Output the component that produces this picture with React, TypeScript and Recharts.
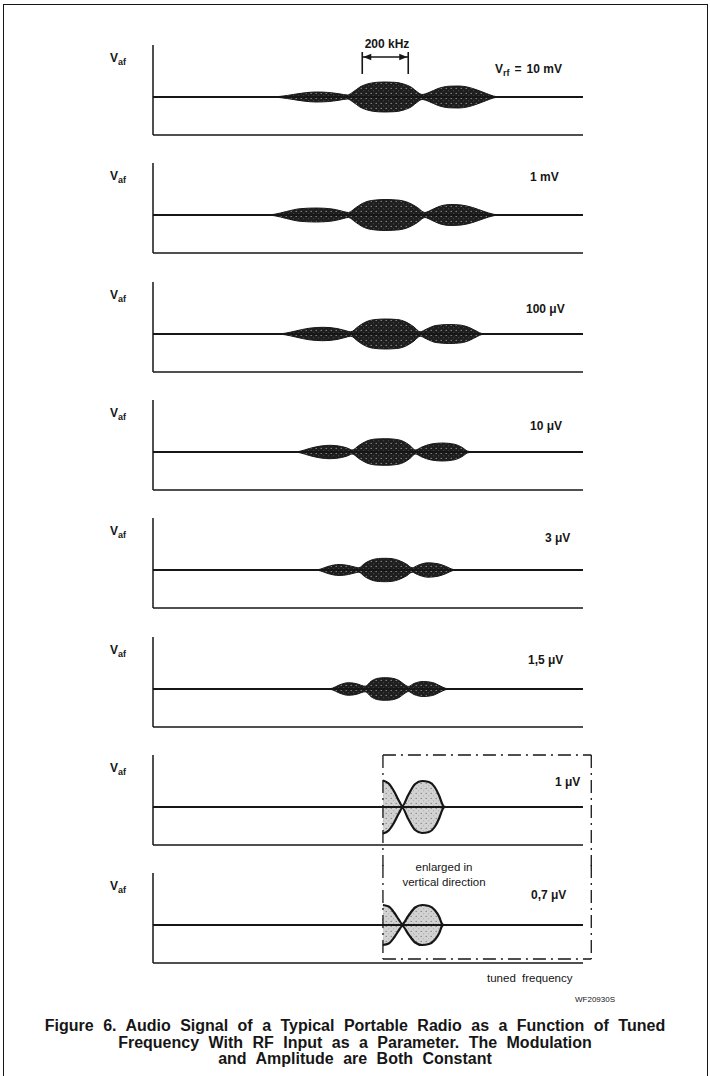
import React from 'react';
import { ComposedChart, Area, Line, XAxis, YAxis, ReferenceLine } from 'recharts';

// x: tuned frequency offset from the station in kHz, y: audio envelope (relative V_af, half amplitude)
const freqDomain: [number, number] = [-1010, 860];
const vafDomain: [number, number] = [-38, 52];

const rfLabels = ['10 mV', '1 mV', '100 μV', '10 μV', '3 μV', '1,5 μV', '1 μV', '0,7 μV'];

const env10mV: [number, number][] = [
  [-1010, 0], [-500, 0], [-450, 0.8], [-400, 2.5], [-350, 4.2], [-300, 5], [-250, 4.6], [-200, 3.2],
  [-165, 2], [-140, 5], [-110, 10], [-70, 13.5], [-30, 14.8], [0, 15], [40, 14.7], [80, 13], [115, 9.5],
  [140, 5], [160, 2.5], [190, 4.5], [230, 8.5], [280, 10.8], [320, 11], [360, 9.8], [400, 7], [440, 3.5],
  [470, 1], [500, 0], [860, 0],
];
const env1mV: [number, number][] = [
  [-1010, 0], [-520, 0], [-480, 0.8], [-430, 3.5], [-370, 6.3], [-300, 7], [-230, 6], [-190, 4],
  [-160, 2.5], [-130, 7], [-100, 11.5], [-60, 14.5], [0, 15.5], [60, 14.8], [100, 12.5], [140, 7.5],
  [172, 2.5], [200, 5], [240, 9], [285, 10.5], [330, 10], [380, 7.5], [430, 3.5], [470, 0.8], [500, 0], [860, 0],
];
const env100uV: [number, number][] = [
  [-1010, 0], [-470, 0], [-435, 0.8], [-390, 3], [-330, 5.8], [-270, 6.7], [-210, 5.5], [-175, 3.5],
  [-150, 2.2], [-120, 7], [-90, 11.5], [-50, 14.3], [0, 15], [50, 14.5], [90, 12], [125, 7], [152, 2.2],
  [180, 5], [220, 8.5], [280, 9.5], [330, 8.8], [370, 6], [400, 2.5], [420, 0.5], [450, 0], [860, 0],
];
const env10uV: [number, number][] = [
  [-1010, 0], [-400, 0], [-370, 0.8], [-330, 3.5], [-280, 6], [-240, 6.7], [-190, 5.5], [-160, 3.5],
  [-144, 2], [-115, 6.5], [-80, 11], [-40, 13], [0, 13.3], [40, 12.8], [80, 10.5], [110, 6], [130, 2],
  [160, 5], [200, 8], [250, 9], [300, 7.8], [335, 4.5], [357, 1], [380, 0], [860, 0],
];
const env3uV: [number, number][] = [
  [-1010, 0], [-310, 0], [-283, 0.8], [-250, 3.5], [-200, 5.5], [-160, 4.5], [-130, 2.8], [-115, 2.2],
  [-90, 6.5], [-60, 10], [-20, 11.6], [0, 11.7], [30, 11.3], [60, 9.5], [95, 5.5], [117, 2.2], [140, 4.5],
  [185, 7.2], [230, 6.2], [265, 3.5], [291, 0.8], [315, 0], [860, 0],
];
const env1_5uV: [number, number][] = [
  [-1010, 0], [-255, 0], [-230, 0.8], [-200, 4], [-160, 6.3], [-120, 5], [-95, 3], [-87, 2.8],
  [-60, 8], [-30, 10.8], [0, 11.3], [30, 10.8], [60, 8.5], [90, 3.5], [100, 2.5], [125, 5.5], [165, 7.5],
  [205, 6.5], [240, 3], [261, 0.8], [285, 0], [860, 0],
];
// enlarged in vertical direction, only the part right of the station is shown
const env1uV: [number, number][] = [
  [-10, 26.5], [15, 23.5], [40, 15], [60, 6], [74, 1], [100, 12], [130, 23], [160, 26], [190, 25],
  [215, 20], [235, 11], [248, 3], [254, 0.5], [262, 0],
];
const env0_7uV: [number, number][] = [
  [-10, 20], [15, 18.5], [40, 12], [60, 5], [74, 1], [100, 9], [130, 17.5], [160, 20], [190, 19],
  [215, 15], [235, 8], [247, 1], [252, 0],
];

const envelopes = [env10mV, env1mV, env100uV, env10uV, env3uV, env1_5uV, env1uV, env0_7uV];
const baselineData = [{ f: freqDomain[0], v: 0 }, { f: freqDomain[1], v: 0 }];
const bracketKHz = 200;
const boxLeftKHz = -10;
const boxRightKHz = 896;

const INK = '#161616';
const FONT = '"Liberation Sans", Arial, Helvetica, sans-serif';

// layout
const PANEL_STEP = 118.3;
const FIRST_BASE = 97;
const CHART_LEFT = 140;
const CHART_W = 470;
const CHART_H = 119;
const labelSpots = [
  { x: 495, dy: -28 }, { x: 530, dy: -38 }, { x: 526, dy: -25 }, { x: 530, dy: -26 },
  { x: 545, dy: -32 }, { x: 528, dy: -29 }, { x: 555, dy: -25 }, { x: 531, dy: -30 },
];

const DoubleArrow = (props: any) => {
  const { x1, y1, x2, y2 } = props;
  return (
    <g>
      <line x1={x1} y1={y1} x2={x2} y2={y2} stroke={INK} strokeWidth={1.6} />
      <path d={`M${x1 + 1},${y1} l8,-3.2 v6.4 z`} fill={INK} />
      <path d={`M${x2 - 1},${y2} l-8,-3.2 v6.4 z`} fill={INK} />
    </g>
  );
};

function Panel({ index }: { index: number }) {
  const base = FIRST_BASE + index * PANEL_STEP;
  const enlarged = index >= 6;
  const data = envelopes[index].map(([f, a]) => ({ f, band: [-a, a] }));
  const pid = `stip${index}`;
  const seg = (pts: { x: number; y: number }[], key: string) => (
    <ReferenceLine
      key={key}
      segment={pts}
      ifOverflow="visible"
      stroke={INK}
      strokeWidth={1.3}
      strokeDasharray="13 5 2 5"
    />
  );
  return (
    <div style={{ position: 'absolute', left: CHART_LEFT, top: Math.round(base - 60), width: CHART_W, height: CHART_H }}>
      <ComposedChart
        width={CHART_W}
        height={CHART_H}
        margin={{ top: 8, right: 27, bottom: 20, left: 12 }}
      >
        <defs>
          <pattern id={pid} width="5" height="5" patternUnits="userSpaceOnUse">
            <rect width="5" height="5" fill={enlarged ? '#d2d2d2' : '#1e1e1e'} />
            <circle cx="1.2" cy="1.4" r="0.65" fill={enlarged ? '#7a7a7a' : '#9a9a9a'} />
            <circle cx="3.7" cy="3.8" r="0.5" fill={enlarged ? '#999' : '#666'} />
          </pattern>
        </defs>
        <XAxis
          type="number"
          dataKey="f"
          domain={freqDomain}
          allowDataOverflow
          height={1}
          tick={false}
          tickLine={false}
          axisLine={{ stroke: INK, strokeWidth: 1.5 }}
        />
        <YAxis
          type="number"
          domain={vafDomain}
          allowDataOverflow
          width={1}
          tick={false}
          tickLine={false}
          axisLine={{ stroke: INK, strokeWidth: 1.5 }}
        />
        <Line
          data={baselineData}
          dataKey="v"
          stroke={INK}
          strokeWidth={2}
          dot={false}
          activeDot={false}
          isAnimationActive={false}
        />
        <Area
          data={data}
          dataKey="band"
          type="monotone"
          fill={`url(#${pid})`}
          fillOpacity={1}
          stroke={INK}
          strokeWidth={enlarged ? 2.2 : 1}
          dot={false}
          activeDot={false}
          isAnimationActive={false}
        />
        {index === 0 && [
          <ReferenceLine key="bl" segment={[{ x: -bracketKHz / 2, y: 23 }, { x: -bracketKHz / 2, y: 45 }]} stroke={INK} strokeWidth={1.6} ifOverflow="visible" />,
          <ReferenceLine key="br" segment={[{ x: bracketKHz / 2, y: 23 }, { x: bracketKHz / 2, y: 45 }]} stroke={INK} strokeWidth={1.6} ifOverflow="visible" />,
          <ReferenceLine key="ba" segment={[{ x: -bracketKHz / 2, y: 40 }, { x: bracketKHz / 2, y: 40 }]} ifOverflow="visible" shape={DoubleArrow} />,
        ]}
        {index === 6 && [
          seg([{ x: boxLeftKHz, y: 52 }, { x: boxRightKHz, y: 52 }], 't'),
          seg([{ x: boxLeftKHz, y: 52 }, { x: boxLeftKHz, y: -59 }], 'l'),
          seg([{ x: boxRightKHz, y: 52 }, { x: boxRightKHz, y: -59 }], 'r'),
        ]}
        {index === 7 && [
          seg([{ x: boxLeftKHz, y: 60 }, { x: boxLeftKHz, y: -34 }], 'l'),
          seg([{ x: boxRightKHz, y: 60 }, { x: boxRightKHz, y: -34 }], 'r'),
          seg([{ x: boxLeftKHz, y: -34 }, { x: boxRightKHz, y: -34 }], 'b'),
        ]}
      </ComposedChart>
    </div>
  );
}

const txt = (extra: React.CSSProperties): React.CSSProperties => ({
  position: 'absolute',
  whiteSpace: 'nowrap',
  lineHeight: '14px',
  color: INK,
  ...extra,
});

const subStyle: React.CSSProperties = { fontSize: 9, verticalAlign: '-3px' };

export default function App() {
  return (
    <div
      style={{
        position: 'absolute', left: 0, top: 0, width: 710, height: 1076, overflow: 'hidden',
        background: '#fff', fontFamily: FONT,
      }}
    >
      <div
        style={{
          position: 'absolute', left: 3, top: 4, width: 703, height: 1100,
          borderTop: `1.5px solid ${INK}`, borderLeft: `1.5px solid ${INK}`, borderRight: `1.5px solid ${INK}`,
        }}
      />
      {envelopes.map((_, i) => (
        <Panel key={i} index={i} />
      ))}
      {envelopes.map((_, i) => {
        const base = FIRST_BASE + i * PANEL_STEP;
        return (
          <React.Fragment key={'l' + i}>
            <div style={txt({ left: 110, top: base - 46, fontSize: 12, fontWeight: 700 })}>
              V<sub style={subStyle}>af</sub>
            </div>
            <div style={txt({ left: labelSpots[i].x, top: base + labelSpots[i].dy - 7, fontSize: 12, fontWeight: 700 })}>
              {i === 0 ? (
                <>
                  V<sub style={subStyle}>rf</sub>
                  <span style={{ margin: '0 5px' }}>=</span>
                  {rfLabels[i]}
                </>
              ) : (
                rfLabels[i]
              )}
            </div>
          </React.Fragment>
        );
      })}
      <div style={txt({ left: 357, top: 37, fontSize: 12, fontWeight: 700, width: 60, textAlign: 'center' })}>200 kHz</div>
      <div style={txt({ left: 395, top: 860, fontSize: 11.5, width: 98, textAlign: 'center' })}>enlarged in</div>
      <div style={txt({ left: 395, top: 875, fontSize: 11.5, width: 98, textAlign: 'center' })}>vertical direction</div>
      <div style={txt({ left: 487, top: 971, fontSize: 11.5, wordSpacing: 3 })}>tuned frequency</div>
      <div style={txt({ left: 575, top: 993, fontSize: 8 })}>WF20930S</div>
      <div
        style={{
          position: 'absolute', left: 4, width: 702, top: 1018, textAlign: 'center',
          fontSize: 16, fontWeight: 700, lineHeight: '16.5px', color: INK, wordSpacing: 5,
        }}
      >
        Figure 6. Audio Signal of a Typical Portable Radio as a Function of Tuned
        <br />
        Frequency With RF Input as a Parameter. The Modulation
        <br />
        and Amplitude are Both Constant
      </div>
    </div>
  );
}
